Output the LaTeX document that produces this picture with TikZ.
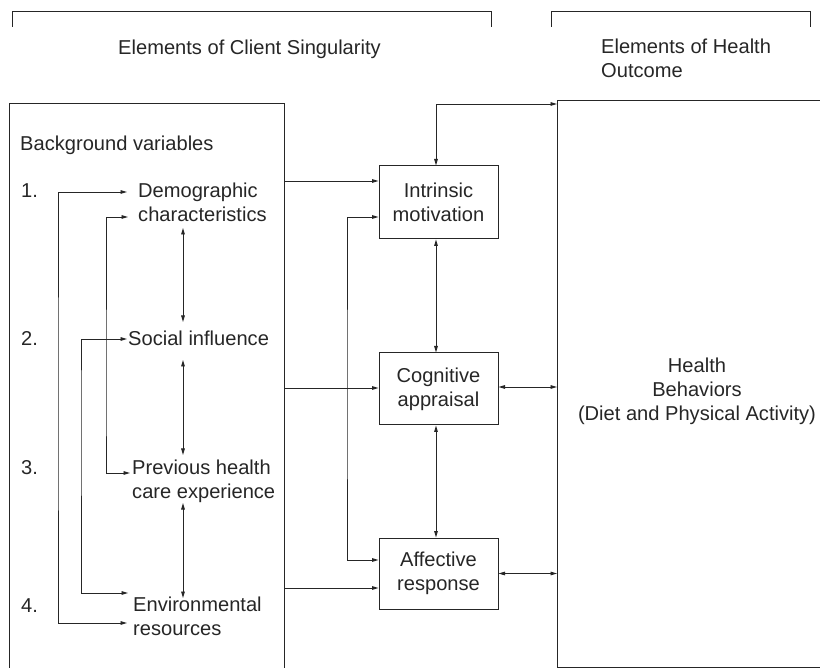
\documentclass[tikz,border=0pt]{standalone}
\usepackage{fontspec}
\setmainfont{Liberation Sans}
\usetikzlibrary{arrows.meta}
\definecolor{ink}{HTML}{262626}
\tikzset{
  every picture/.style={x=1pt,y=-1pt},
  txt/.style={inner sep=0pt,font=\fontsize{20.1}{24}\selectfont,text=ink,align=left},
  midbox/.style={draw=ink,line width=1pt,minimum width=119pt,inner sep=0pt,
    font=\fontsize{20.1}{24}\selectfont,text=ink,align=center},
  bigbox/.style={draw=ink,line width=1pt,inner sep=0pt},
  conn/.style={draw=ink,line width=0.9pt},
  tip/.style={conn,-{Triangle[length=6.5pt,width=3.6pt]}},
  dtip/.style={conn,{Triangle[length=6.5pt,width=3.6pt]}-{Triangle[length=6.5pt,width=3.6pt]}},
  brk/.style={draw=ink,line width=1pt}
}
\begin{document}
\begin{tikzpicture}
\useasboundingbox (0,0) rectangle (820,668);
\clip (0,0) rectangle (820,668);
% brackets
\draw[brk] (12,27) -- (12,12) -- (491,12) -- (491,27);
\draw[brk] (551,27) -- (551,12) -- (810,12) -- (810,27);
\node[txt,anchor=base] (t1) at (249.5,55) {Elements of Client Singularity};
\node[txt,anchor=base west] (t2) at (601,78) {Elements of Health\\Outcome};
% big boxes
\node[bigbox,anchor=north west,minimum width=275pt,minimum height=600pt] (lbox) at (9,103) {};
\node[bigbox,anchor=north west,minimum width=280pt,minimum height=567pt] (hbox) at (557,100) {};
\node[txt,align=center] (htext) at (697,391) {Health\\Behaviors\\(Diet and Physical Activity)};
% middle boxes
\node[midbox,minimum height=73pt] (intr) at (438.5,202.5) {Intrinsic\\motivation};
\node[midbox,minimum height=72pt] (cog) at (438.5,389) {Cognitive\\appraisal};
\node[midbox,minimum height=71pt] (aff) at (438.5,573.5) {Affective\\response};
% left texts
\node[txt,anchor=base west] (bg) at (20,151) {Background variables};
\node[txt,anchor=base west] (n1) at (21,198) {1.};
\node[txt,anchor=base west] (n2) at (21,346) {2.};
\node[txt,anchor=base west] (n3) at (21,475) {3.};
\node[txt,anchor=base west] (n4) at (21,612) {4.};
\node[txt,anchor=base west] (demo) at (138,222) {Demographic\\characteristics};
\node[txt,anchor=base west] (soc) at (128,346) {Social influence};
\node[txt,anchor=base west] (prev) at (132,498) {Previous health\\care experience};
\node[txt,anchor=base west] (env) at (133,635) {Environmental\\resources};
% coordinates
\coordinate (a1) at (127,192); \coordinate (a2) at (127,623); \coordinate (xa) at (58,400);
\coordinate (b1) at (128,217); \coordinate (b2) at (130,473); \coordinate (xb) at (106,400);
\coordinate (c1) at (127,339); \coordinate (c2) at (128,593); \coordinate (xc) at (81,400);
\coordinate (v1) at (183,228); \coordinate (v2) at (183,322);
\coordinate (v3) at (183,360); \coordinate (v4) at (183,455);
\coordinate (v5) at (183,503); \coordinate (v6) at (183,598);
\coordinate (y1) at (0,181); \coordinate (y2) at (0,388); \coordinate (y3) at (0,588);
\coordinate (m1) at (0,217); \coordinate (m2) at (0,560); \coordinate (xm) at (347,400);
\coordinate (xt) at (436,104);
\coordinate (xv) at (436,0);
\coordinate (hc) at (0,387);
% left box connectors
\draw[dtip] (a1) -| (xa) |- (a2);
\draw[dtip] (b1) -| (xb) |- (b2);
\draw[dtip] (c1) -| (xc) |- (c2);
\draw[dtip] (v1) -- (v2);
\draw[dtip] (v3) -- (v4);
\draw[dtip] (v5) -- (v6);
% left box to middle
\draw[tip] (lbox.east |- y1) -- (intr.west |- y1);
\draw[tip] (lbox.east |- y2) -- (cog.west |- y2);
\draw[tip] (lbox.east |- y3) -- (aff.west |- y3);
% bracket intrinsic-affective
\draw[dtip] (intr.west |- m1) -| (xm) |- (aff.west |- m2);
% vertical middle
\draw[dtip] (intr.south -| xv) -- (cog.north -| xv);
\draw[dtip] (cog.south -| xv) -- (aff.north -| xv);
% to health
\draw[dtip] (intr.north -| xv) -- (xt) -- (hbox.west |- xt);
\draw[dtip] (cog.east |- hc) -- (hbox.west |- hc);
\draw[dtip] (aff.east) -- (hbox.west |- aff.east);
\end{tikzpicture}
\end{document}
